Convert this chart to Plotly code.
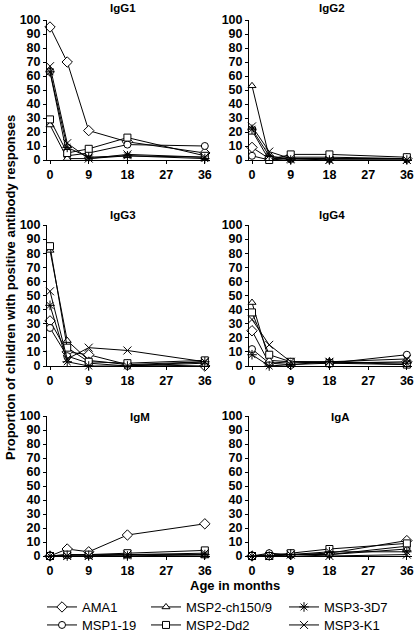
import plotly.graph_objects as go

# ---------------- data ----------------
MONTHS = [0, 4, 9, 18, 36]
ANTIGENS = ["AMA1", "MSP1-19", "MSP2-ch150/9", "MSP2-Dd2", "MSP3-3D7", "MSP3-K1"]
PANELS = ["IgG1", "IgG2", "IgG3", "IgG4", "IgM", "IgA"]
X_TICKS = [0, 9, 18, 27, 36]
Y_TICKS = list(range(0, 101, 10))

# rows follow ANTIGENS order
IGG1 = [[95, 70, 21, 13, 5],
        [63, 3, 5, 11, 10],
        [25, 1, 1, 3, 2],
        [29, 5, 8, 16, 3],
        [63, 9, 2, 3, 1],
        [67, 12, 1, 4, 2]]
IGG2 = [[9, 1, 1, 1, 1],
        [3, 0, 1, 1, 1],
        [53, 2, 2, 2, 1],
        [21, 0, 4, 4, 2],
        [22, 3, 0, 0, 0],
        [24, 6, 1, 0, 0]]
IGG3 = [[32, 10, 8, 1, 0],
        [27, 7, 2, 0, 2],
        [82, 18, 4, 1, 3],
        [85, 13, 3, 2, 4],
        [43, 3, 0, 0, 3],
        [53, 5, 13, 11, 3]]
IGG4 = [[25, 2, 1, 2, 3],
        [12, 2, 3, 2, 8],
        [45, 4, 3, 3, 1],
        [38, 8, 3, 2, 1],
        [8, 0, 1, 3, 2],
        [33, 15, 3, 3, 5]]
IGM = [[0, 5, 3, 15, 23],
       [0, 1, 1, 1, 1],
       [0, 0, 0, 0, 0],
       [0, 1, 1, 2, 4],
       [0, 0, 0, 0, 1],
       [0, 0, 0, 1, 2]]
IGA = [[0, 1, 1, 2, 11],
       [0, 2, 1, 1, 7],
       [0, 0, 1, 1, 5],
       [0, 0, 2, 5, 9],
       [0, 0, 1, 3, 3],
       [0, 0, 1, 0, 1]]
PANEL_DATA = [IGG1, IGG2, IGG3, IGG4, IGM, IGA]

# ---------------- style ----------------
W, H = 416, 632
FONT = "Liberation Sans, Arial, sans-serif"
SYMBOLS = ["diamond", "circle", "triangle-up", "square", "asterisk-open", "x-thin-open"]
SIZES = [8, 7, 7, 7, 8, 8]
LEGEND_IDS = ["legend", "legend2", "legend3", "legend4", "legend5", "legend6"]
# legend box left / top in pixels, one box per antigen
LEGEND_POS = [(42, 592), (42, 610), (146, 592), (146, 610), (284, 592), (284, 610)]


def px_x(v):
    return v / W


def px_y(v):
    return 1 - v / H


COLS = [(47, 210), (249, 412)]
ROWS = [(20, 160), (225, 366), (416, 556)]
TITLE_POS = [(123, 8), (332, 8), (123, 215), (332, 215), (140, 417), (340, 417)]

fig = go.Figure()
layout = {}
annotations = []

for p, (name, data) in enumerate(zip(PANELS, PANEL_DATA)):
    r, c = divmod(p, 2)
    ax = "" if p == 0 else str(p + 1)
    for i, ant in enumerate(ANTIGENS):
        open_sym = SYMBOLS[i].endswith("open")
        fig.add_trace(go.Scatter(
            x=MONTHS, y=data[i], mode="lines+markers", name=ant,
            xaxis="x" + ax, yaxis="y" + ax,
            legendgroup=ant, showlegend=(p == 0), legend=LEGEND_IDS[i],
            line=dict(color="black", width=1),
            marker=dict(symbol=SYMBOLS[i], size=SIZES[i],
                        color="black" if open_sym else "white",
                        line=dict(color="black", width=1)),
            cliponaxis=False,
        ))
    x0, x1 = COLS[c]
    y0, y1 = ROWS[r]
    layout["xaxis" + ax] = dict(
        domain=[px_x(x0), px_x(x1)], range=[-0.7, 37.2], anchor="y" + ax,
        tickvals=X_TICKS, ticks="outside", ticklen=3, tickcolor="black",
        showline=True, linecolor="black", linewidth=1, showgrid=False,
        zeroline=False, tickfont=dict(family=FONT, size=12.5, color="black", weight="bold"),
    )
    layout["yaxis" + ax] = dict(
        domain=[px_y(y1), px_y(y0)], range=[0, 100], anchor="x" + ax,
        tickvals=Y_TICKS, ticks="outside", ticklen=3, tickcolor="black",
        showline=True, linecolor="black", linewidth=1, showgrid=False,
        zeroline=False, tickfont=dict(family=FONT, size=12.5, color="black", weight="bold"),
    )
    tx, ty = TITLE_POS[p]
    annotations.append(dict(
        text=name, x=px_x(tx), y=px_y(ty), xref="paper", yref="paper",
        xanchor="center", yanchor="middle", showarrow=False,
        font=dict(family=FONT, size=11.5, color="black", weight="bold"),
    ))

annotations.append(dict(
    text="Age in months", x=px_x(235), y=px_y(585), xref="paper", yref="paper",
    xanchor="center", yanchor="middle", showarrow=False,
    font=dict(family=FONT, size=13, color="black", weight="bold"),
))
annotations.append(dict(
    text="Proportion of children with positive antibody responses",
    x=px_x(10), y=px_y(288), xref="paper", yref="paper", textangle=-90,
    xanchor="center", yanchor="middle", showarrow=False,
    font=dict(family=FONT, size=13, color="black", weight="bold"),
))

for lid, (lx, ly) in zip(LEGEND_IDS, LEGEND_POS):
    layout[lid] = dict(x=px_x(lx), y=px_y(ly), xanchor="left", yanchor="top",
                       bgcolor="rgba(0,0,0,0)", orientation="v",
                       font=dict(family=FONT, size=13, color="black"))

fig.update_layout(
    width=W, height=H, margin=dict(l=0, r=0, t=0, b=0, autoexpand=False),
    paper_bgcolor="white", plot_bgcolor="white",
    annotations=annotations, **layout,
)

fig.write_html("out.html", config={"displayModeBar": False},
               post_script="document.body.style.margin='0';")
